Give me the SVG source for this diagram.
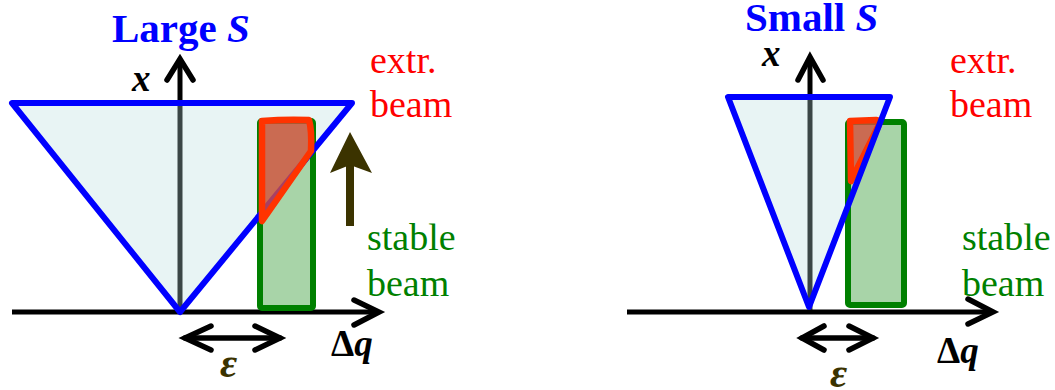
<svg xmlns="http://www.w3.org/2000/svg" width="1055" height="390" viewBox="0 0 1055 390">
<defs>
<style>
.ax{stroke:#000;stroke-width:5;fill:none;stroke-linecap:butt}
.axg{stroke:#3b4646;stroke-width:5;fill:none}
.chev{stroke:#000;stroke-width:5.5;fill:none;stroke-linecap:round;stroke-linejoin:miter}
.trifill{fill:#e8f4f4;stroke:none}
.tristroke{fill:none;stroke:#0000ff;stroke-width:6;stroke-linejoin:round}
.green{fill:#a8d4a8;stroke:#008000;stroke-width:6;stroke-linejoin:round}
.red{fill:#d2503c;fill-opacity:0.8;stroke:#ff3300;stroke-width:6.5;stroke-linejoin:round}
text{font-family:'Liberation Serif','Times New Roman',serif}
.title{font-weight:bold;font-size:41px;fill:#0000ff}
.lab{font-size:38px}
.math{font-weight:bold;font-style:italic;font-size:37px;fill:#000}
.eps{fill:#3b3300;font-size:42px}
</style>
</defs>

<g id="left-panel">
  <g id="left-triangle">
    <polygon class="trifill" points="12,103 352,103 180,312"/>
  </g>
  <g id="connectors-left">
    <line class="ax" x1="180" y1="59" x2="180" y2="103"/>
    <line class="axg" x1="180" y1="103" x2="180" y2="312"/>
    <polyline class="chev" points="167,80 180,59 193,80"/>
    <line class="ax" x1="12" y1="312" x2="378" y2="312"/>
    <polyline class="chev" points="354,300 379,312 354,325"/>
    <line class="chev" x1="185" y1="338" x2="280" y2="338"/>
    <polyline class="chev" points="211,326 185,338 211,350"/>
    <polyline class="chev" points="255,326 280,338 255,350"/>
    <line x1="350" y1="226" x2="350" y2="165" stroke="#3b3300" stroke-width="8"/>
    <polygon points="330,173 350,132 372,173 350,165" fill="#3b3300"/>
  </g>
  <g id="left-stable">
    <rect class="green" x="260" y="121" width="53" height="187" rx="2"/>
  </g>
  <polygon class="tristroke" points="12,103 352,103 180,312"/>
  <g id="left-extr">
    <path class="red" d="M262,121 Q286,119 309,120 Q312,130 311,151 L262,221 Z"/>
  </g>
  <text class="title" x="112" y="42">Large <tspan font-style="italic">S</tspan></text>
  <text class="math" x="132" y="91">x</text>
  <text class="lab" x="370" y="73" fill="#ff0000">extr.</text>
  <text class="lab" x="370" y="117" fill="#ff0000">beam</text>
  <text class="lab" x="367" y="250" fill="#008000">stable</text>
  <text class="lab" x="367" y="296" fill="#008000">beam</text>
  <text class="math" x="331" y="356"><tspan font-style="normal">Δ</tspan>q</text>
  <text class="math eps" x="220" y="377">ε</text>
</g>

<g id="right-panel">
  <g id="right-triangle">
    <polygon class="trifill" points="728,97 890,97 809,307"/>
  </g>
  <g id="connectors-right">
    <line class="ax" x1="810" y1="57" x2="810" y2="97"/>
    <line class="axg" x1="810" y1="97" x2="810" y2="310"/>
    <polyline class="chev" points="798,80 810,57 823,80"/>
    <line class="ax" x1="627" y1="312" x2="993" y2="312"/>
    <polyline class="chev" points="968,299 993,312 968,324"/>
    <line class="chev" x1="802" y1="338" x2="873" y2="338"/>
    <polyline class="chev" points="824,326 802,338 824,350"/>
    <polyline class="chev" points="849,326 873,338 849,350"/>
  </g>
  <g id="right-stable">
    <rect class="green" x="848" y="122" width="56" height="183" rx="2"/>
  </g>
  <g id="right-extr">
    <path class="red" d="M850,121 L876,120 Q881,121 878,127 L851,181 Z"/>
  </g>
  <polygon class="tristroke" points="728,97 890,97 809,307"/>
  <text class="title" x="745" y="31">Small <tspan font-style="italic">S</tspan></text>
  <text class="math" x="762" y="66">x</text>
  <text class="lab" x="950" y="73" fill="#ff0000">extr.</text>
  <text class="lab" x="950" y="117" fill="#ff0000">beam</text>
  <text class="lab" x="962" y="250" fill="#008000">stable</text>
  <text class="lab" x="962" y="296" fill="#008000">beam</text>
  <text class="math" x="937" y="363"><tspan font-style="normal">Δ</tspan>q</text>
  <text class="math eps" x="830" y="387">ε</text>
</g>
</svg>
